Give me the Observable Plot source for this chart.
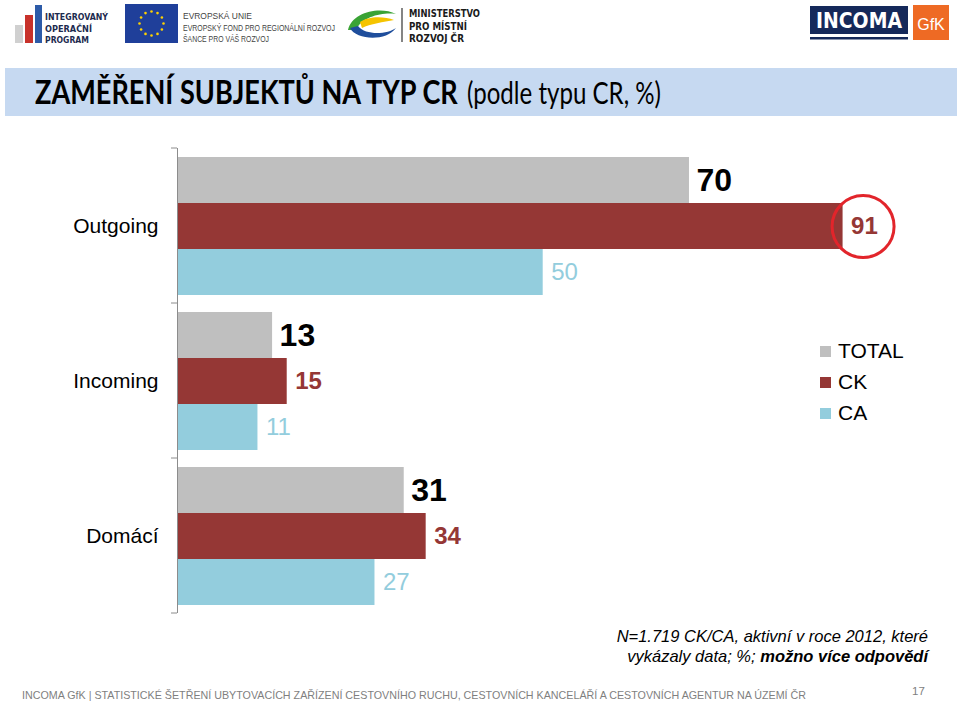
<!DOCTYPE html>
<html>
<head>
<meta charset="utf-8">
<script src="https://cdn.jsdelivr.net/npm/d3@7"></script>
<script src="https://cdn.jsdelivr.net/npm/@observablehq/plot@0.6"></script>
<style>
  body { margin: 0; background: #fff; }
  #page { position: relative; width: 960px; height: 703px; overflow: hidden; background: #fff; font-family: "Liberation Sans", Arial, sans-serif; }
  #header { position: absolute; left: 0; top: 0; }
  #chart { position: absolute; left: 0; top: 140px; }
  #legend { position: absolute; left: 820px; top: 338px; font-size: 21px; color: #000; }
  #legend .item { height: 31px; line-height: 26px; white-space: nowrap; }
  #legend .sw { display: inline-block; width: 11px; height: 11px; margin-right: 7px; vertical-align: 1px; }
  #note { position: absolute; right: 32px; top: 626px; font-size: 16.5px; font-style: italic; text-align: right; line-height: 20px; color: #000; }
  #footer { position: absolute; left: 0; top: 670px; }
</style>
</head>
<body>
<div id="page">
  <svg id="header" width="960" height="130"></svg>
  <div id="chart"></div>
  <div id="legend"></div>
  <div id="note">N=1.719 CK/CA, aktivní v roce 2012, které<br>vykázaly data; %; <b>možno více odpovědí</b></div>
  <svg id="footer" width="960" height="33"></svg>
</div>
<script>
// ---- data ----
const categories = ["Outgoing", "Incoming", "Domácí"];
const series = ["TOTAL", "CK", "CA"];
const totalValues = [70, 13, 31];
const ckValues = [91, 15, 34];
const caValues = [50, 11, 27];
const seriesColors = ["#bfbfbf", "#953735", "#93cddd"];
const labelColors = ["#000000", "#953735", "#93cddd"];
const highlightCategory = "Outgoing";
const highlightSeries = "CK";
const titleBold = "ZAMĚŘENÍ SUBJEKTŮ NA TYP CR";
const titleRest = "(podle typu CR, %)";
const footerText = "INCOMA GfK | STATISTICKÉ ŠETŘENÍ UBYTOVACÍCH ZAŘÍZENÍ CESTOVNÍHO RUCHU, CESTOVNÍCH KANCELÁŘÍ A CESTOVNÍCH AGENTUR NA ÚZEMÍ ČR";
const pageNumber = "17";

const seriesValues = [totalValues, ckValues, caValues];
const data = categories.flatMap((c, i) => series.map((s, j) => ({category: c, series: s, value: seriesValues[j][i]})));

// ---- header (logos + title bar) ----
const hdr = d3.select("#header");
function measure(txt, size, weight, family) {
  const t = hdr.append("text").attr("font-size", size).attr("font-weight", weight).attr("font-family", family).text(txt);
  const w = t.node().getComputedTextLength();
  t.remove();
  return w;
}
// IOP logo
hdr.append("rect").attr("x", 15).attr("y", 25).attr("width", 8).attr("height", 18).attr("fill", "#d0d0d0");
hdr.append("rect").attr("x", 25).attr("y", 15).attr("width", 8).attr("height", 28).attr("fill", "#c8322b");
hdr.append("rect").attr("x", 35).attr("y", 5).attr("width", 7).attr("height", 38).attr("fill", "#2d5ba8");
[["INTEGROVANÝ", 20, 63], ["OPERAČNÍ", 32, 47], ["PROGRAM", 43, 44]].forEach(([t, y, w]) =>
  hdr.append("text").attr("x", 45).attr("y", y).attr("font-size", 9.5).attr("font-weight", "bold")
    .attr("font-family", "DejaVu Sans").attr("fill", "#1d2b4f")
    .attr("textLength", w).attr("lengthAdjust", "spacingAndGlyphs").text(t));
// EU flag
hdr.append("rect").attr("x", 125).attr("y", 4).attr("width", 53).attr("height", 39).attr("fill", "#1f3f9a");
d3.range(12).forEach(k => {
  const a = k * Math.PI / 6;
  hdr.append("circle").attr("cx", 151.5 + 12 * Math.cos(a)).attr("cy", 23.5 + 12 * Math.sin(a)).attr("r", 1.3).attr("fill", "#ffd200");
});
[["EVROPSKÁ UNIE", 19, 69], ["EVROPSKÝ FOND PRO REGIONÁLNÍ ROZVOJ", 30.5, 152], ["ŠANCE PRO VÁŠ ROZVOJ", 42, 86]].forEach(([t, y, w]) =>
  hdr.append("text").attr("x", 183).attr("y", y).attr("font-size", 8.5)
    .attr("font-family", "Liberation Sans").attr("fill", "#444")
    .attr("textLength", w).attr("lengthAdjust", "spacingAndGlyphs").text(t));
// MMR logo
hdr.append("path").attr("d", "M348,30 C352,12 380,6 396,14 C384,12 362,16 356,30 Z").attr("fill", "#3aa335");
hdr.append("path").attr("d", "M350,28 C356,40 386,42 396,28 C388,34 366,36 358,26 Z").attr("fill", "#1f4e9c");
hdr.append("path").attr("d", "M360,22 C368,16 384,16 394,20 C384,22 370,24 362,28 Z").attr("fill", "#f5c400");
hdr.append("line").attr("x1", 402).attr("x2", 402).attr("y1", 8).attr("y2", 42).attr("stroke", "#333").attr("stroke-width", 1.2);
[["MINISTERSTVO", 17, 71], ["PRO MÍSTNÍ", 30, 58], ["ROZVOJ ČR", 42, 55]].forEach(([t, y, w]) =>
  hdr.append("text").attr("x", 409).attr("y", y).attr("font-size", 10.5).attr("font-weight", "bold")
    .attr("font-family", "DejaVu Sans").attr("fill", "#1a1a1a")
    .attr("textLength", w).attr("lengthAdjust", "spacingAndGlyphs").text(t));
// INCOMA + GfK
hdr.append("rect").attr("x", 810).attr("y", 6).attr("width", 98).attr("height", 28).attr("fill", "#15295a");
hdr.append("rect").attr("x", 810).attr("y", 37).attr("width", 98).attr("height", 2.5).attr("fill", "#15295a");
hdr.append("text").attr("x", 859).attr("y", 28).attr("text-anchor", "middle").attr("font-size", 21).attr("font-weight", "bold")
  .attr("font-family", "DejaVu Sans").attr("fill", "#fff").attr("textLength", 86).attr("lengthAdjust", "spacingAndGlyphs").text("INCOMA");
hdr.append("rect").attr("x", 913).attr("y", 5).attr("width", 36).attr("height", 35).attr("fill", "#ee6a24");
hdr.append("text").attr("x", 931).attr("y", 30).attr("text-anchor", "middle").attr("font-size", 16)
  .attr("font-family", "Liberation Sans").attr("fill", "#fff").text("GfK");
// title bar: natural-width font sizes, stretched vertically to the reference height
hdr.append("rect").attr("x", 5).attr("y", 68).attr("width", 952).attr("height", 48).attr("fill", "#c6d9f1");
{
  const boldH = 33, restH = 31;
  const fB = boldH * 423 / measure(titleBold, boldH, "bold", "Lato");
  const fR = restH * 194 / measure(titleRest, restH, "normal", "Lato");
  hdr.append("text").attr("transform", `translate(35,104) scale(1,${boldH / fB})`)
    .attr("font-size", fB).attr("font-weight", "bold").attr("font-family", "Lato").attr("fill", "#000").text(titleBold);
  hdr.append("text").attr("transform", `translate(467,104) scale(1,${restH / fR})`)
    .attr("font-size", fR).attr("font-family", "Lato").attr("fill", "#000").text(titleRest);
}

// ---- chart ----
const plot = Plot.plot({
  width: 960,
  height: 480,
  marginTop: 7,
  marginBottom: 7,
  marginLeft: 177,
  marginRight: 51.6,
  style: {fontFamily: "Liberation Sans, Arial, sans-serif", fontSize: "21px", color: "#000", background: "transparent", overflow: "visible"},
  facet: {data, y: "category"},
  fy: {domain: categories, padding: 0, axis: "left", label: null, tickSize: 0, tickPadding: 19},
  x: {domain: [0, 100], axis: null},
  y: {domain: series, paddingInner: 0, paddingOuter: 0.15, axis: null},
  color: {domain: series, range: seriesColors},
  marks: [
    Plot.barX(data, {x: "value", y: "series", fill: "series"}),
    Plot.ruleX([0], {stroke: "#8c8c8c", strokeWidth: 1}),
    Plot.text(data, {filter: d => d.series === series[0], x: "value", y: "series", text: d => String(d.value),
      textAnchor: "start", dx: 7, fontSize: 32, fontWeight: "bold", fill: labelColors[0]}),
    Plot.text(data, {filter: d => d.series === series[1], x: "value", y: "series", text: d => String(d.value),
      textAnchor: "start", dx: 8, fontSize: 24, fontWeight: "bold", fill: labelColors[1]}),
    Plot.text(data, {filter: d => d.series === series[2], x: "value", y: "series", text: d => String(d.value),
      textAnchor: "start", dx: 8, fontSize: 24, fill: labelColors[2]}),
    Plot.dot(data, {filter: d => d.category === highlightCategory && d.series === highlightSeries,
      x: "value", y: "series", r: 31, dx: 20, fill: "none", stroke: "#e2252b", strokeWidth: 3})
  ]
});
document.getElementById("chart").appendChild(plot);

// category-axis boundary ticks (Excel-style), from the library's own scales
const fyScale = plot.scale("fy");
const xScale = plot.scale("x");
const x0 = xScale.apply(0);
const bounds = categories.map(c => fyScale.apply(c)).concat([fyScale.apply(categories[categories.length - 1]) + fyScale.bandwidth]);
const gTicks = d3.select(plot).append("g").attr("stroke", "#8c8c8c").attr("stroke-width", 1);
bounds.forEach(b => gTicks.append("line").attr("x1", x0 - 6).attr("x2", x0).attr("y1", b).attr("y2", b));

// ---- legend ----
const legend = d3.select("#legend");
series.forEach((s, j) => {
  const item = legend.append("div").attr("class", "item");
  item.append("span").attr("class", "sw").style("background", seriesColors[j]);
  item.append("span").text(s);
});

// ---- footer ----
const ftr = d3.select("#footer");
ftr.append("text").attr("x", 22).attr("y", 29).attr("font-size", 11.5).attr("font-family", "Liberation Sans")
  .attr("fill", "#7f7f7f").attr("textLength", 784).attr("lengthAdjust", "spacingAndGlyphs").text(footerText);
ftr.append("text").attr("x", 912).attr("y", 25).attr("font-size", 11.5).attr("font-family", "Liberation Sans")
  .attr("fill", "#7f7f7f").text(pageNumber);
</script>
</body>
</html>
